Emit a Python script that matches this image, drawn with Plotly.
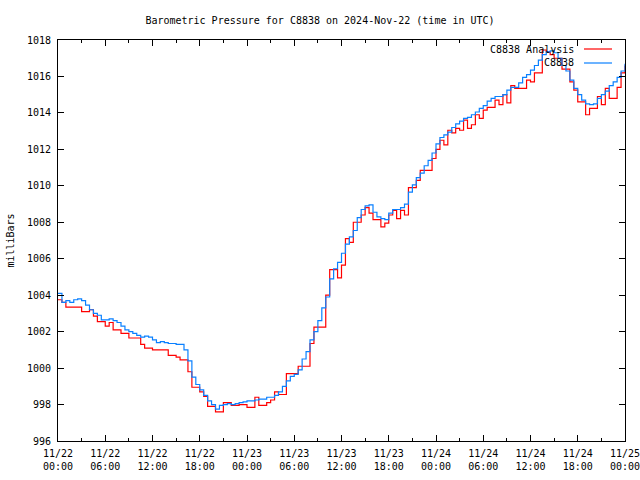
import datetime as dt
import plotly.graph_objects as go

# ---- data (30-minute samples starting 2024-11-22 00:00 UTC) ----
start_time = "2024-11-22 00:00"
step_minutes = 30

analysis_mb = [
    1003.75, 1003.6, 1003.35, 1003.35, 1003.35, 1003.35, 1003.1, 1003.1, 1003.2, 1002.85,
    1002.55, 1002.55, 1002.3, 1002.5, 1002.1, 1002.1, 1001.9, 1001.9, 1001.65, 1001.65,
    1001.65, 1001.3, 1001.1, 1001.1, 1001.0, 1001.0, 1001.0, 1001.0, 1000.7, 1000.7,
    1000.6, 1000.45, 1000.45, 999.8, 998.95, 998.95, 998.7, 998.45, 997.9, 997.9,
    997.6, 997.6, 998.1, 998.1, 997.95, 997.95, 998.0, 998.0, 997.85, 997.85,
    998.4, 997.95, 997.95, 998.1, 998.25, 998.7, 998.55, 998.55, 999.7, 999.7,
    999.7, 1000.1, 1000.1, 1000.1, 1001.35, 1002.25, 1002.25, 1002.25, 1004.0, 1005.4,
    1005.4, 1004.95, 1005.65, 1007.1, 1006.9, 1008.0, 1008.0, 1008.4, 1008.8, 1008.5,
    1008.15, 1008.15, 1007.75, 1007.95, 1008.4, 1008.65, 1008.2, 1008.65, 1008.4, 1009.9,
    1009.9, 1010.3, 1010.85, 1010.85, 1010.85, 1011.5, 1012.0, 1012.5, 1012.25, 1013.05,
    1012.9, 1013.15, 1013.05, 1013.6, 1013.15, 1013.35, 1013.9, 1013.7, 1014.15, 1014.3,
    1014.3, 1014.7, 1014.45, 1015.0, 1014.55, 1015.5, 1015.35, 1015.35, 1015.35, 1015.8,
    1015.7, 1016.2, 1016.2, 1017.45, 1017.35, 1017.2, 1017.0, 1017.0, 1016.4, 1016.4,
    1015.7, 1015.25, 1014.6, 1014.6, 1013.9, 1014.25, 1014.25, 1014.9, 1014.45, 1015.35,
    1014.8, 1014.8, 1015.4, 1016.2, 1016.6,
]

station_mb = [
    1004.1, 1003.6, 1003.7, 1003.6, 1003.75, 1003.8, 1003.7, 1003.45, 1003.2, 1003.0,
    1002.9, 1002.65, 1002.65, 1002.7, 1002.6, 1002.5, 1002.3, 1002.1, 1002.0, 1001.9,
    1001.8, 1001.7, 1001.75, 1001.7, 1001.55, 1001.4, 1001.45, 1001.4, 1001.35, 1001.35,
    1001.3, 1001.3, 1001.0, 1000.4, 999.5, 999.1, 998.8, 998.5, 998.2, 998.0,
    997.75, 997.95, 998.0, 998.05, 998.0, 998.05, 998.1, 998.15, 998.2, 998.2,
    998.25, 998.3, 998.3, 998.4, 998.4, 998.5, 998.7, 999.0, 999.3, 999.55,
    999.65, 999.9, 1000.5, 1000.9, 1001.55, 1002.0, 1002.6, 1003.3, 1003.9, 1004.9,
    1005.45, 1005.8, 1006.3, 1006.8, 1007.2, 1007.55, 1008.25, 1008.7, 1008.9, 1008.95,
    1008.55, 1008.3, 1008.2, 1008.15, 1008.5, 1008.7, 1008.7, 1008.8, 1009.0, 1009.65,
    1010.05, 1010.45, 1010.7, 1011.1, 1011.4, 1011.8, 1012.3, 1012.65, 1012.8, 1012.95,
    1013.2, 1013.4, 1013.55, 1013.7, 1013.75, 1013.9, 1014.05, 1014.25, 1014.4, 1014.65,
    1014.8, 1014.9, 1014.9, 1015.0, 1015.25, 1015.4, 1015.4, 1015.65, 1015.95, 1016.1,
    1016.35, 1016.6, 1016.9, 1017.2, 1017.35, 1017.4, 1017.3, 1017.0, 1016.6, 1016.3,
    1015.8, 1015.35, 1015.0, 1014.7, 1014.5, 1014.45, 1014.5, 1014.8, 1015.0, 1015.2,
    1015.5, 1015.7, 1015.95, 1016.3, 1016.7,
]

tick_times = ["2024-11-22 00:00", "2024-11-22 06:00", "2024-11-22 12:00", "2024-11-22 18:00",
              "2024-11-23 00:00", "2024-11-23 06:00", "2024-11-23 12:00", "2024-11-23 18:00",
              "2024-11-24 00:00", "2024-11-24 06:00", "2024-11-24 12:00", "2024-11-24 18:00",
              "2024-11-25 00:00"]
tick_labels = ["11/22<br>00:00", "11/22<br>06:00", "11/22<br>12:00", "11/22<br>18:00",
               "11/23<br>00:00", "11/23<br>06:00", "11/23<br>12:00", "11/23<br>18:00",
               "11/24<br>00:00", "11/24<br>06:00", "11/24<br>12:00", "11/24<br>18:00",
               "11/25<br>00:00"]

name_analysis = "C8838 Analysis"
name_station = "C8838"
red = "#ff0000"
blue = "#0a80ff"

t0 = dt.datetime.strptime(start_time, "%Y-%m-%d %H:%M")
times = [t0 + dt.timedelta(minutes=step_minutes * i) for i in range(len(station_mb))]

FONT = "DejaVu Sans Mono"
L, R, T, B = 58, 15, 40, 39
PW, PH = 640 - L - R, 480 - T - B

fig = go.Figure()
fig.add_trace(go.Scatter(x=times, y=analysis_mb, mode="lines", line_shape="hv",
                         line=dict(color=red, width=1.2), name=name_analysis, showlegend=False))
fig.add_trace(go.Scatter(x=times, y=station_mb, mode="lines", line_shape="hv",
                         line=dict(color=blue, width=1.2), name=name_station, showlegend=False))

fig.update_layout(
    width=640, height=480,
    margin=dict(l=L, r=R, t=T, b=B, autoexpand=False),
    paper_bgcolor="white", plot_bgcolor="white",
    font=dict(family=FONT, size=10, color="black"),
    title=dict(text="Barometric Pressure for C8838 on 2024-Nov-22 (time in UTC)",
               x=0.5, xanchor="center", xref="container",
               y=1 - 20 / 480, yanchor="middle", yref="container",
               font=dict(family=FONT, size=10, color="black")),
    xaxis=dict(
        range=[tick_times[0], tick_times[-1]], automargin=False,
        tickmode="array", tickvals=tick_times, ticktext=tick_labels,
        ticks="inside", ticklen=6, tickcolor="black", tickwidth=1,
        minor=dict(ticks="inside", ticklen=3, dtick=3 * 3600 * 1000, tickcolor="black"),
        showline=True, linecolor="black", linewidth=1, mirror="allticks",
        showgrid=False, zeroline=False, ticklabeloverflow="allow",
        ticklabelstandoff=3,
        tickfont=dict(family=FONT, size=10),
    ),
    yaxis=dict(
        range=[996, 1018], dtick=2, tick0=996, automargin=False,
        ticks="inside", ticklen=6, tickcolor="black", tickwidth=1,
        showline=True, linecolor="black", linewidth=1, mirror="allticks",
        showgrid=False, zeroline=False, ticklabelstandoff=4,
        tickfont=dict(family=FONT, size=10),
        title=dict(text="milliBars", font=dict(family=FONT, size=10), standoff=10),
    ),
)

# legend drawn gnuplot style: text then sample line
legend_rows = [(name_analysis, red, 49), (name_station, blue, 63)]
for label, color, ypix in legend_rows:
    yp = 1 - (ypix - T) / PH
    fig.add_annotation(text=label, x=(576 - L) / PW, xref="paper", y=yp, yref="paper",
                       xanchor="right", yanchor="middle", showarrow=False,
                       font=dict(family=FONT, size=10, color="black"))
    fig.add_shape(type="line", xref="paper", yref="paper",
                  x0=(584 - L) / PW, x1=(612 - L) / PW, y0=yp, y1=yp,
                  line=dict(color=color, width=1.2))

fig.write_html("out.html", config={"displayModeBar": False},
               post_script="document.body.style.margin='0';")
